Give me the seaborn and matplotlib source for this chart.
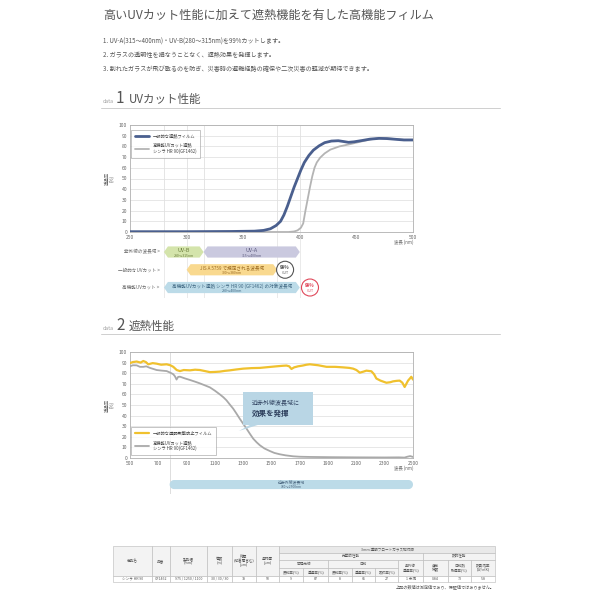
import numpy as np
import pandas as pd
import seaborn as sns
import matplotlib.pyplot as plt
from matplotlib.patches import Rectangle, Polygon

# ---- data -------------------------------------------------------------
# data 1 : UV cut (transmittance %, 250-500nm)
uv_wl_general = [250, 300, 340, 360, 368, 374, 379, 383, 386, 389, 392, 395, 398,
                 401, 404, 408, 412, 417, 422, 428, 434, 439, 443, 448, 455, 462,
                 470, 477, 485, 492, 500]
uv_general = [0.3, 0.3, 0.5, 0.8, 1.5, 3, 6, 10, 16, 24, 33, 42, 50,
              58, 65, 71.5, 76.5, 80.5, 83.5, 85, 85.3, 84.5, 83.8, 84.3, 85.5, 86.8,
              87.5, 87.3, 86.6, 86, 86]
uv_wl_hr90 = [250, 390, 395, 398, 401, 403, 405, 407, 409, 411, 413, 415, 418,
              422, 427, 435, 444, 450, 456, 463, 470, 477, 485, 492, 500]
uv_hr90 = [0, 0, 0.5, 1.5, 4, 8, 20, 31, 42, 52, 60, 65, 69.5,
           73.5, 77, 80, 82, 83.5, 85, 86.6, 87.6, 87.5, 86.8, 86.2, 86.2]

# data 2 : heat shield (transmittance %, 500-2500nm)
nir_wl_general = [500, 520, 547, 575, 594, 612, 629, 660, 688, 720, 759, 785, 806,
                  830, 853, 880, 924, 960, 994, 1030, 1065, 1100, 1135, 1170, 1206,
                  1250, 1300, 1360, 1418, 1480, 1536, 1580, 1606, 1625, 1641, 1660,
                  1688, 1720, 1747, 1771, 1830, 1889, 1950, 2006, 2050, 2077, 2100,
                  2124, 2150, 2171, 2206, 2225, 2241, 2270, 2312, 2340, 2359, 2385,
                  2406, 2425, 2441, 2453, 2465, 2478, 2488, 2500]
nir_general = [89.6, 90.5, 91, 90, 91.5, 90.5, 88.4, 89.5, 89, 88, 88.4, 87.5, 86,
               83, 82, 83, 82.7, 83.3, 83, 82, 81, 81.2, 81.5, 82.2, 82.7,
               83.5, 84.3, 84.8, 85, 85.8, 86.5, 87, 87.2, 86.5, 84, 85.5,
               86.5, 87.2, 88, 88.4, 87.5, 86, 86, 85.5, 85, 84.3, 83,
               80.5, 81.5, 82.4, 81.8, 79, 75, 73, 71, 71.5, 72.3, 72.8,
               73, 71, 67, 70, 73, 75, 76.6, 74]
nir_wl_hr90 = [500, 520, 547, 570, 594, 615, 641, 665, 688, 720, 759, 785, 806,
               818, 829, 840, 853, 890, 924, 960, 994, 1030, 1065, 1100, 1135,
               1160, 1182, 1205, 1229, 1252, 1276, 1300, 1324, 1348, 1371, 1395,
               1418, 1450, 1488, 1520, 1559, 1600, 1653, 1700, 1771, 1900, 2100,
               2300, 2400, 2440, 2460, 2480, 2500]
nir_hr90 = [86.5, 87.5, 87.4, 86, 86, 86.5, 85, 84, 83, 82.5, 82, 80.5, 79,
            77, 74, 76.5, 76.7, 75, 73.6, 72, 70.4, 68.5, 66.6, 63.5, 60,
            57.3, 54.4, 50.5, 46.6, 42, 37, 32.3, 27.6, 22.7, 18.2, 14.8,
            12, 9, 6.6, 4.8, 3.5, 2.5, 1.6, 1.2, 1, 0.8, 0.6,
            0.5, 0.6, 0.4, 1.2, 1.8, 1]

uv_ticks = [250, 300, 350, 400, 450, 500]
nir_ticks = [500, 700, 900, 1100, 1300, 1500, 1700, 1900, 2100, 2300, 2500]
uv_bounds = [280, 300, 315, 380, 400]
nir_bounds = [780]

band_rows = ["紫外線の波長域 >", "一般的なUVカット >", "高機能UVカット >"]
band_row = [0, 0, 1, 2]
band_start = [280, 315, 300, 280]
band_end = [315, 400, 380, 400]
band_title = ["UV-B", "UV-A", "JIS A 5759 で規定される波長域",
              "高機能UVカット遮熱 シンラ HR 90 (GF1462) の対象波長域"]
band_range = ["280〜315nm", "315〜400nm", "300〜380nm", "280〜400nm"]
badge_x = [387, 409]
badge_row = [1, 2]

nir_start = [780]
nir_end = [2500]
nir_title = ["近赤外線波長域"]
nir_range = ["780〜2500nm"]

table_values = ["シンラ HR 90", "GF1462", "975 / 1250 / 1100", "30 / 30 / 30", "78", "50",
                "9", "87", "8", "65", "27", "1 未満", "0.84", "73", "5.8"]

# ---- style ------------------------------------------------------------
sns.set_theme(style="white")
plt.rcParams['font.family'] = ['Noto Sans CJK JP', 'DejaVu Sans']

W = H = 600
fig = plt.figure(figsize=(6, 6), dpi=100, facecolor="white")


def frac(x0, y0, x1, y1):
    return [x0 / W, 1 - y1 / H, (x1 - x0) / W, (y1 - y0) / H]


def draw_band(ax, x0, x1, yc, h, color, tip, rounded=False):
    if rounded:
        t = np.linspace(-np.pi / 2, np.pi / 2, 24)
        xs = np.r_[x1 - tip + tip * np.cos(t), x0 + tip - tip * np.cos(t)]
        ys = np.r_[yc + h / 2 * np.sin(t), yc - h / 2 * np.sin(t)]
    else:
        xs = [x0, x0 + tip, x1 - tip, x1, x1 - tip, x0 + tip]
        ys = [yc, yc - h / 2, yc - h / 2, yc, yc + h / 2, yc + h / 2]
    ax.fill(xs, ys, color=color, lw=0, zorder=3)


def style_chart(ax):
    ax.set_ylim(0, 100)
    ax.set_yticks(range(0, 101, 10))
    ax.yaxis.grid(True, color="#e3e3e3", lw=0.6)
    ax.xaxis.grid(False)
    ax.tick_params(labelsize=3.6, labelcolor="#666666", length=0, pad=2)
    for s in ax.spines.values():
        s.set_color("#b0b0b0")
        s.set_linewidth(0.6)
    ax.set_xlabel("")
    ax.set_ylabel("透過率\n(%)", fontsize=3.2, color="#666666", labelpad=3, linespacing=1.0)
    ax.text(1.0, -0.075, "波長 (nm)", transform=ax.transAxes, ha="right", va="top",
            fontsize=3.2, color="#666666")


# ---- header texts -----------------------------------------------------
fig.text(103 / W, 1 - 15 / H, "高いUVカット性能に加えて遮熱機能を有した高機能フィルム",
         fontsize=8.7, color="#555555", va="center")
items = ["1. UV-A(315〜400nm)・UV-B(280〜315nm)を99%カットします。",
         "2. ガラスの透明性を損なうことなく、遮熱効果を発揮します。",
         "3. 割れたガラスが飛び散るのを防ぎ、災害時の避難経路の確保や二次災害の軽減が期待できます。"]
for yy, t in zip([42, 55.5, 69], items):
    fig.text(103 / W, 1 - yy / H, t, fontsize=4.4, color="#555555", va="center")

for base, num, name in [(103, "1", "UVカット性能"), (330, "2", "遮熱性能")]:
    fig.text(103 / W, 1 - base / H, "data", fontsize=3.8, color="#a0a0a0", va="baseline")
    fig.text(116 / W, 1 - base / H, num, fontsize=11, color="#555555", va="baseline")
    fig.text(129 / W, 1 - base / H, name, fontsize=8.3, color="#555555", va="baseline")

# overlay for lines and table (pixel coordinates)
ov = fig.add_axes([0, 0, 1, 1], zorder=-5)
ov.set_xlim(0, W)
ov.set_ylim(H, 0)
ov.axis("off")
for yy in [108, 334]:
    ov.plot([101, 500], [yy, yy], color="#cfcfcf", lw=0.7)

# ---- data 1 chart -----------------------------------------------------
ax1 = fig.add_axes(frac(130, 125, 413, 232))
axb1 = fig.add_axes(frac(130, 233, 413, 298), sharex=ax1, zorder=-1)
axb1.patch.set_alpha(0)

sns.lineplot(x=uv_wl_hr90, y=uv_hr90, ax=ax1, color="#b4b4b4", lw=1.3,
             label="高機能UVカット遮熱\nシンラ HR 90(GF1462)", zorder=3)
sns.lineplot(x=uv_wl_general, y=uv_general, ax=ax1, color="#4a5f8e", lw=2.0,
             label="一般的な遮熱フィルム", zorder=4)
ax1.set_xlim(250, 500)
ax1.set_xticks(uv_ticks)
style_chart(ax1)
for b in uv_bounds:
    ax1.axvline(b, color="#e0e0e0", lw=0.6, zorder=1)
    axb1.axvline(b, color="#e6e6e6", lw=0.6, zorder=1)
h1, l1 = ax1.get_legend_handles_labels()
leg = ax1.legend(h1[::-1], l1[::-1], loc="upper left", bbox_to_anchor=(0.003, 0.955),
                 borderaxespad=0, fontsize=3.1, frameon=True, fancybox=False,
                 edgecolor="#999999", handlelength=3.2, labelspacing=0.9,
                 borderpad=0.9, handletextpad=1.0)
leg.get_frame().set_linewidth(0.5)
for t in leg.get_texts():
    t.set_color("#444444")

axb1.set_ylim(2.59, -1.07)
axb1.axis("off")
for i, lab in enumerate(band_rows):
    axb1.text(276, i, lab, ha="right", va="center", fontsize=3.3, color="#666666")

band_colors = ["#d4e4ab", "#cac9df", "#f9d98f", "#bcdbe8"]
band_text = ["#6b7d3c", "#5e5d80", "#9b6a20", "#3d6580"]
tip1 = 3.5
for r, x0, x1, t1, t2, c, tc in zip(band_row, band_start, band_end, band_title,
                                    band_range, band_colors, band_text):
    draw_band(axb1, x0, x1, r, 0.63, c, tip1)
    fs = 3.9 if len(t1) < 6 else 3.3
    axb1.text((x0 + x1) / 2, r - 0.1, t1, ha="center", va="center", fontsize=fs,
              color=tc, zorder=4)
    axb1.text((x0 + x1) / 2, r + 0.2, t2, ha="center", va="center", fontsize=2.5,
              color=tc, zorder=4)

badge_ec = ["#555555", "#e0485a"]
axb1.scatter(badge_x, badge_row, s=150, facecolor="white", edgecolor=badge_ec,
             linewidth=0.8, zorder=5, clip_on=False)
for bx, br, c in zip(badge_x, badge_row, badge_ec):
    axb1.text(bx, br - 0.13, "99%", ha="center", va="center", fontsize=3.3,
              fontweight="bold", color=c, zorder=6)
    axb1.text(bx, br + 0.2, "CUT", ha="center", va="center", fontsize=2.6,
              color=c, zorder=6)

# ---- data 2 chart -----------------------------------------------------
ax2 = fig.add_axes(frac(130, 352, 413, 458))
axb2 = fig.add_axes(frac(130, 459, 413, 494), sharex=ax2, zorder=-1)
axb2.patch.set_alpha(0)

sns.lineplot(x=nir_wl_hr90, y=nir_hr90, ax=ax2, color="#a9a9a9", lw=1.3,
             label="高機能UVカット遮熱\nシンラ HR 90(GF1462)", zorder=3)
sns.lineplot(x=nir_wl_general, y=nir_general, ax=ax2, color="#f0c12e", lw=1.6,
             label="一般的な透明飛散防止フィルム", zorder=4)
ax2.set_xlim(500, 2500)
ax2.set_xticks(nir_ticks)
style_chart(ax2)
for b in nir_bounds:
    ax2.axvline(b, color="#d8d8d8", lw=0.6, zorder=1)
    axb2.axvline(b, color="#d8d8d8", lw=0.6, zorder=1)
h2, l2 = ax2.get_legend_handles_labels()
leg2 = ax2.legend(h2[::-1], l2[::-1], loc="lower left", bbox_to_anchor=(0.003, 0.028),
                  borderaxespad=0, fontsize=3.1, frameon=True, fancybox=False,
                  edgecolor="#999999", handlelength=3.2, labelspacing=0.9,
                  borderpad=0.9, handletextpad=1.0)
leg2.get_frame().set_linewidth(0.5)
for t in leg2.get_texts():
    t.set_color("#444444")

# callout
ax2.add_patch(Rectangle((0.399, 0.311), 0.248, 0.312, transform=ax2.transAxes,
                        facecolor="#b9d6e5", edgecolor="none", zorder=5))
ax2.add_patch(Polygon([(0.424, 0.312), (0.452, 0.312), (0.385, 0.255)],
                      transform=ax2.transAxes, facecolor="#b9d6e5",
                      edgecolor="none", zorder=5))
ax2.text(0.43, 0.52, "近赤外線波長域に", transform=ax2.transAxes, fontsize=4.3,
         color="#2c3e5c", va="center", zorder=6)
ax2.text(0.43, 0.425, "効果を発揮", transform=ax2.transAxes, fontsize=5.4,
         fontweight="bold", color="#2c3e5c", va="center", zorder=6)

axb2.set_ylim(0, 1)
axb2.axis("off")
tip2 = 4.5 * 2000 / 283
for x0, x1, t1, t2 in zip(nir_start, nir_end, nir_title, nir_range):
    draw_band(axb2, x0, x1, 0.27, 0.26, "#bcdbe8", tip2, rounded=True)
    axb2.text((x0 + x1) / 2, 0.31, t1, ha="center", va="center", fontsize=2.8,
              color="#44607a", zorder=4)
    axb2.text((x0 + x1) / 2, 0.2, t2, ha="center", va="center", fontsize=2.4,
              color="#44607a", zorder=4)

# ---- table ------------------------------------------------------------
cols = [112.7, 151.7, 170, 206.7, 231.7, 255.7, 279.3, 303.3, 328.3, 351.7, 375,
        398.3, 423.3, 447.7, 471, 495]
rows = [546.3, 553, 560.3, 568, 575.7, 581.5]
lw_t = 0.4
ec_t = "#b8b8b8"


def cell(x0, x1, y0, y1, text, fc="#f3f3f3", fs=2.6):
    ov.add_patch(Rectangle((x0, y0), x1 - x0, y1 - y0, facecolor=fc,
                           edgecolor=ec_t, lw=lw_t))
    ov.text((x0 + x1) / 2, (y0 + y1) / 2, text, ha="center", va="center",
            fontsize=fs, color="#555555", linespacing=1.1)


left_heads = ["商品名", "品番", "製品幅\n(mm)", "巻数\n(m)", "総厚\n(粘着層含む)\n(μm)",
              "基材厚\n(μm)"]
for i, t in enumerate(left_heads):
    cell(cols[i], cols[i + 1], rows[0], rows[4], t)
cell(cols[6], cols[15], rows[0], rows[1], "3mm 透明フロートガラス貼付時", fc="#e9e9e9")
cell(cols[6], cols[12], rows[1], rows[2], "光学的性能")
cell(cols[12], cols[15], rows[1], rows[2], "熱的性能")
cell(cols[6], cols[8], rows[2], rows[3], "可視光線")
cell(cols[8], cols[11], rows[2], rows[3], "日射")
cell(cols[11], cols[12], rows[2], rows[4], "紫外線\n透過率(%)")
cell(cols[12], cols[13], rows[2], rows[4], "遮蔽\n係数")
cell(cols[13], cols[14], rows[2], rows[4], "日射熱\n取得率(%)")
cell(cols[14], cols[15], rows[2], rows[4], "熱貫流率\n(W/㎡K)")
for i, t in enumerate(["反射率(%)", "透過率(%)", "反射率(%)", "透過率(%)", "吸収率(%)"]):
    cell(cols[6 + i], cols[7 + i], rows[3], rows[4], t)
for i, v in enumerate(table_values):
    cell(cols[i], cols[i + 1], rows[4], rows[5], v, fc="white")
ov.text(495, 587, "上記の数値は測定値であり、保証値ではありません。", ha="right",
        va="center", fontsize=3.0, color="#555555")

fig.savefig("out.png", dpi=100, facecolor="white")
